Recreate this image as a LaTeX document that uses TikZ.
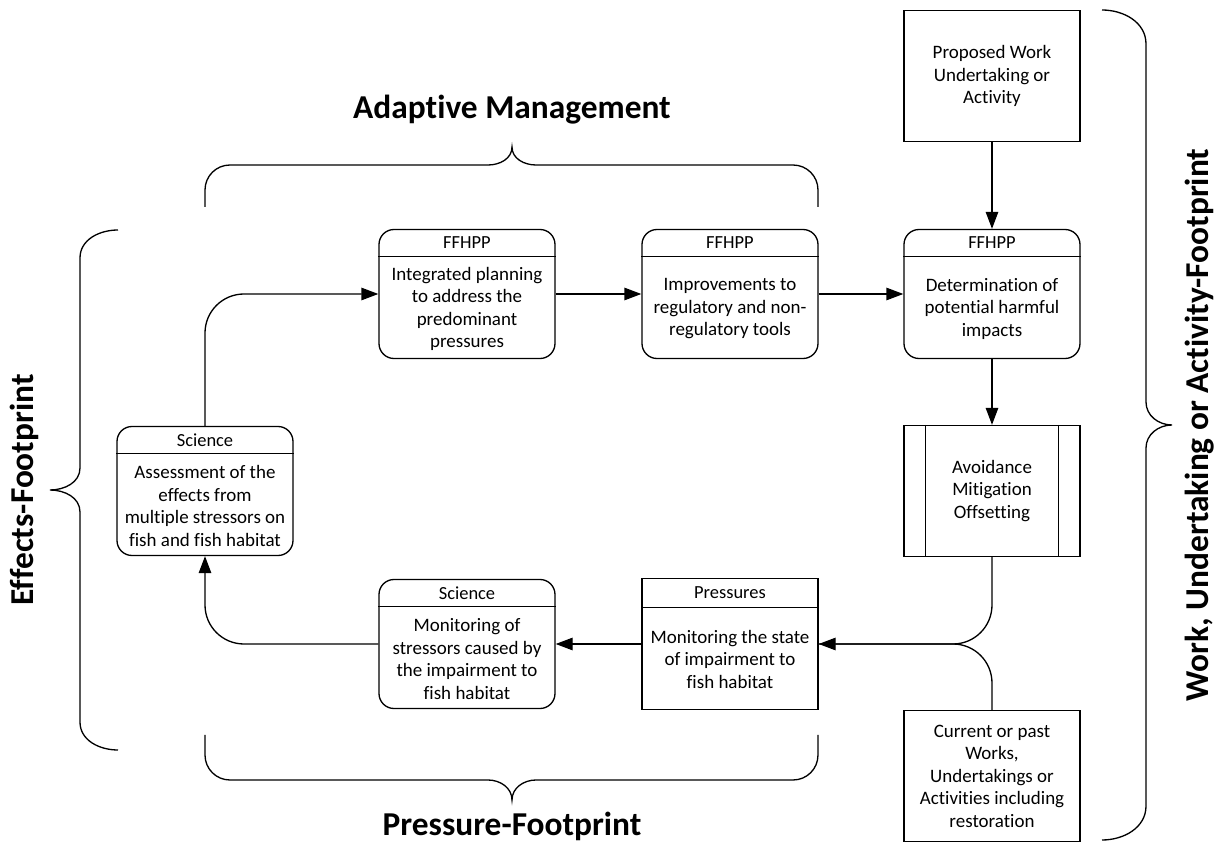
\documentclass[tikz,border=0pt]{standalone}
\usepackage{fontspec}
\setmainfont{Carlito}[Ligatures={NoCommon,NoContextual}]
\usetikzlibrary{arrows.meta,positioning,calc}

\begin{document}
\begin{tikzpicture}[
  x=0.2mm, y=-0.2mm,
  line width=0.75pt,
  rbox/.style={draw, rounded corners=3mm,
               minimum width=35.2mm, minimum height=25.8mm},
  sbox/.style={draw, minimum width=35.2mm, minimum height=26.2mm,
               align=center, font=\fontsize{10.8}{12.8}\selectfont},
  txt/.style={align=center, inner sep=0pt,
              font=\fontsize{10.8}{12.8}\selectfont},
  hdr/.style={inner sep=0pt, font=\fontsize{10.5}{12}\selectfont},
  big/.style={font=\fontsize{19}{22}\selectfont\bfseries},
  arr/.style={-{Triangle[length=3.4mm,width=2.5mm]}},
  turn/.style={rounded corners=7.8mm}
]
\useasboundingbox (0,0) rectangle (1225,843);

% top row
\node[rbox] (int)  at (467,294) {};
\node[rbox] (impr) at (730,294) {};
\node[rbox] (det)  at (992,294) {};
\node[sbox] (prop) at (992,76)  {Proposed Work\\Undertaking or\\Activity};

% right column
\node[sbox] (avoid) at (992,491) {Avoidance\\Mitigation\\Offsetting};
\draw ($(avoid.north west)+(22,0)$) -- ($(avoid.south west)+(22,0)$);
\draw ($(avoid.north east)+(-22,0)$) -- ($(avoid.south east)+(-22,0)$);
\node[sbox] (cur) at (992,776) {Current or past\\Works,\\Undertakings or\\Activities including\\restoration};

% left and bottom row
\node[rbox] (assess) at (205,491) {};
\node[rbox] (monsci) at (467,644) {};
\node[sbox, minimum height=26.2mm] (press) at (730,644) {};

% headers and texts
\node[hdr] (int-h) at ($(int.north)+(0,14)$) {FFHPP};
\draw ($(int.north west)+(0,28)$) -- ($(int.north east)+(0,28)$);
\node[txt] (int-t) at ($(int.center)+(0,15)$) {Integrated planning\\to address the\\predominant\\pressures};

\node[hdr] (impr-h) at ($(impr.north)+(0,14)$) {FFHPP};
\draw ($(impr.north west)+(0,28)$) -- ($(impr.north east)+(0,28)$);
\node[txt] (impr-t) at ($(impr.center)+(0,15)$) {Improvements to\\regulatory and non-\\regulatory tools};

\node[hdr] (det-h) at ($(det.north)+(0,14)$) {FFHPP};
\draw ($(det.north west)+(0,28)$) -- ($(det.north east)+(0,28)$);
\node[txt] (det-t) at ($(det.center)+(0,15)$) {Determination of\\potential harmful\\impacts};

\node[hdr] (assess-h) at ($(assess.north)+(0,14)$) {Science};
\draw ($(assess.north west)+(0,28)$) -- ($(assess.north east)+(0,28)$);
\node[txt] (assess-t) at ($(assess.center)+(0,15)$) {Assessment of the\\effects from\\multiple stressors on\\fish and fish habitat};

\node[hdr] (monsci-h) at ($(monsci.north)+(0,14)$) {Science};
\draw ($(monsci.north west)+(0,28)$) -- ($(monsci.north east)+(0,28)$);
\node[txt] (monsci-t) at ($(monsci.center)+(0,15)$) {Monitoring of\\stressors caused by\\the impairment to\\fish habitat};

\node[hdr] (press-h) at ($(press.north)+(0,15)$) {Pressures};
\draw ($(press.north west)+(0,30)$) -- ($(press.north east)+(0,30)$);
\node[txt] (press-t) at ($(press.center)+(0,15)$) {Monitoring the state\\of impairment to\\fish habitat};

% flow
\draw[arr, turn] (assess.north) |- (int.west);
\draw[arr] (int.east) -- (impr.west);
\draw[arr] (impr.east) -- (det.west);
\draw[arr] (prop.south) -- (det.north);
\draw[arr] (det.south) -- (avoid.north);
\draw[arr, turn] (avoid.south) |- (press.east);
\draw[turn] (cur.north) |- (press.east);
\draw[arr] (press.west) -- (monsci.east);
\draw[arr, turn] (monsci.west) -| (assess.south);

% braces
\draw (205,207) -- (205,190) to[out=90,in=180] (230,165) -- (488,165)
  to[out=0,in=-90] (512,147) to[out=-90,in=180] (536,165) -- (793,165)
  to[out=0,in=90] (818,190) -- (818,207);
\draw (205,735) -- (205,755) to[out=-90,in=180] (230,780) -- (488,780)
  to[out=0,in=90] (512,800) to[out=90,in=180] (536,780) -- (793,780)
  to[out=0,in=-90] (818,755) -- (818,735);
\draw (118,230) to[out=180,in=90] (80,258) -- (80,468)
  to[out=-90,in=0] (50,490) to[out=0,in=90] (80,512) -- (80,722)
  to[out=-90,in=180] (118,750);
\draw (1102,10) to[out=0,in=90] (1146,44) -- (1146,402)
  to[out=-90,in=180] (1172,425) to[out=180,in=90] (1146,448) -- (1146,806)
  to[out=-90,in=0] (1102,840);

\node[big] (adapt) at (512,110) {Adaptive Management};
\node[big] (presfp) at (512,826) {Pressure-Footprint};
\node[big, rotate=90] (effects) at (24,490) {Effects-Footprint};
\node[big, rotate=90] (workfp) at (1200,425) {Work, Undertaking or Activity-Footprint};
\end{tikzpicture}
\end{document}
